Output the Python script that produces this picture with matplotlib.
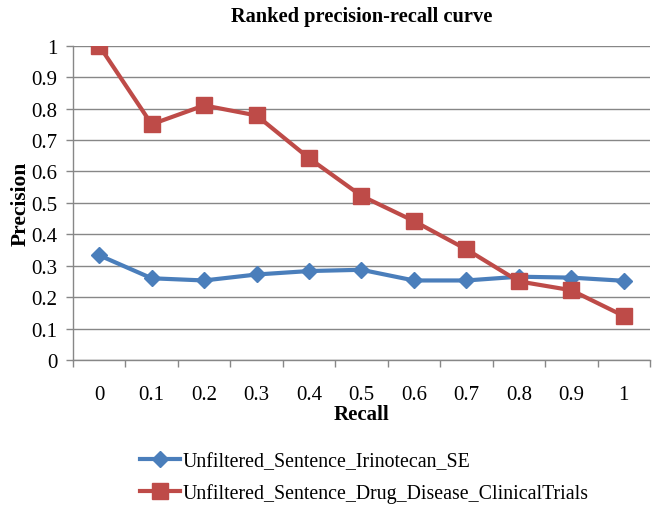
import numpy as np
import matplotlib.pyplot as plt

recall = ['0', '0.1', '0.2', '0.3', '0.4', '0.5', '0.6', '0.7', '0.8', '0.9', '1']
irinotecan_se = [0.333, 0.26, 0.253, 0.272, 0.283, 0.287, 0.253, 0.253, 0.265, 0.262, 0.252]
drug_disease_ct = [1.0, 0.75, 0.81, 0.778, 0.642, 0.522, 0.442, 0.352, 0.25, 0.222, 0.14]

plt.rcParams['font.family'] = ['Liberation Serif', 'DejaVu Serif']

fig = plt.figure(figsize=(6.54, 5.06), dpi=100)
ax = fig.add_axes([0.1116, 0.2866, 0.8823, 0.6211])

x = np.arange(len(recall))
ax.plot(x, irinotecan_se, '-D', color='#4a7ebb', lw=3, ms=8,
        label='Unfiltered_Sentence_Irinotecan_SE', zorder=3)
ax.plot(x, drug_disease_ct, '-s', color='#be4b48', lw=3, ms=11,
        label='Unfiltered_Sentence_Drug_Disease_ClinicalTrials', zorder=3)

ax.set_xlim(-0.5, len(recall) - 0.5)
ax.set_ylim(0, 1)
ax.set_yticks(np.arange(0, 1.01, 0.1))
ax.set_yticklabels(['0', '0.1', '0.2', '0.3', '0.4', '0.5', '0.6', '0.7', '0.8', '0.9', '1'])
ax.set_xticks(x)
ax.set_xticklabels(recall)
ax.set_xticks(np.arange(-0.5, len(recall), 1), minor=True)
ax.tick_params(axis='x', which='major', length=0, pad=18, labelsize=15)
ax.tick_params(axis='x', which='minor', length=5, color='#878787', width=1)
ax.tick_params(axis='y', length=5, color='#878787', width=1, labelsize=15, pad=6)
ax.yaxis.grid(True, color='#878787', lw=1)
ax.set_axisbelow(True)
for s in ['top', 'right']:
    ax.spines[s].set_visible(False)
for s in ['left', 'bottom']:
    ax.spines[s].set_color('#878787')
    ax.spines[s].set_linewidth(1)

ax.set_title('Ranked precision-recall curve', fontsize=14.7, fontweight='bold', pad=18)
ax.set_xlabel('Recall', fontsize=15, fontweight='bold', labelpad=0)
ax.set_ylabel('Precision', fontsize=15.5, fontweight='bold', labelpad=1)

fig.legend(loc='upper left', bbox_to_anchor=(0.202, 0.12), frameon=False,
           fontsize=14.3, handlelength=2.0, handletextpad=0.15, labelspacing=0.6,
           borderaxespad=0)

fig.savefig('out.png', dpi=100)
